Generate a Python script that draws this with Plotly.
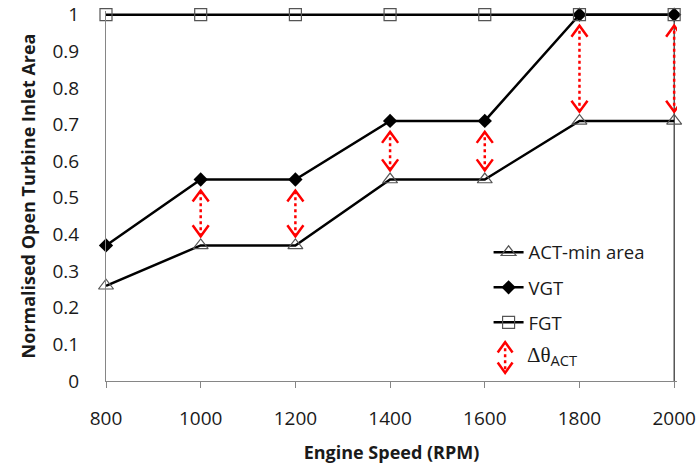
import plotly.graph_objects as go

speed = [800, 1000, 1200, 1400, 1600, 1800, 2000]
act_min = [0.26, 0.37, 0.37, 0.55, 0.55, 0.71, 0.71]
vgt = [0.37, 0.55, 0.55, 0.71, 0.71, 1.0, 1.0]
fgt = [1, 1, 1, 1, 1, 1, 1]
arrow_speeds = [1000, 1200, 1400, 1600, 1800, 2000]

FONT = "Open Sans"
RED = "#ff0000"
TXT = "#1a1a1a"
fig = go.Figure()

# red dotted double arrows between ACT and VGT
gap_top, gap_bot = 0.03, 0.025
head_dx, head_dy = 17, 0.03
for s in arrow_speeds:
    i = speed.index(s)
    lo = act_min[i] + gap_bot
    hi = vgt[i] - gap_top
    fig.add_trace(go.Scatter(x=[s, s], y=[lo, hi], mode="lines",
                             line=dict(color=RED, width=2.5, dash="dot"),
                             showlegend=False, hoverinfo="skip", cliponaxis=False))
    fig.add_trace(go.Scatter(x=[s - head_dx, s, s + head_dx, None, s - head_dx, s, s + head_dx],
                             y=[hi - head_dy, hi, hi - head_dy, None, lo + head_dy, lo, lo + head_dy],
                             mode="lines", line=dict(color=RED, width=2.5),
                             showlegend=False, hoverinfo="skip", cliponaxis=False))

fig.add_trace(go.Scatter(x=speed, y=act_min, name="ACT-min area", mode="lines+markers",
                         line=dict(color="black", width=2.5),
                         marker=dict(symbol="triangle-up-open", size=13, color="#555555",
                                     line=dict(width=1.2)),
                         legendgroup="a", cliponaxis=False))
fig.add_trace(go.Scatter(x=speed, y=vgt, name="VGT", mode="lines+markers",
                         line=dict(color="black", width=2.5),
                         marker=dict(symbol="diamond", size=11, color="black"),
                         legendgroup="b", cliponaxis=False))
fig.add_trace(go.Scatter(x=speed, y=fgt, name="FGT", mode="lines+markers",
                         line=dict(color="black", width=2.5),
                         marker=dict(symbol="square-open", size=12, color="#555555",
                                     line=dict(width=1.2)),
                         legendgroup="c", cliponaxis=False))

# right border line
fig.add_shape(type="line", xref="x", yref="y", x0=speed[-1], x1=speed[-1], y0=0, y1=1,
              line=dict(color="black", width=1), layer="below")

# custom legend entry for the arrow
lx, ly0, ly1 = 0.699, 0.022, 0.105
fig.add_shape(type="line", xref="paper", yref="paper", x0=lx, x1=lx, y0=ly0 + 0.01, y1=ly1 - 0.01,
              line=dict(color=RED, width=2.5, dash="dot"))
fig.add_shape(type="path", xref="paper", yref="paper",
              path=f"M {lx-0.013} {ly1-0.028} L {lx} {ly1} L {lx+0.013} {ly1-0.028}",
              line=dict(color=RED, width=2.5))
fig.add_shape(type="path", xref="paper", yref="paper",
              path=f"M {lx-0.013} {ly0+0.028} L {lx} {ly0} L {lx+0.013} {ly0+0.028}",
              line=dict(color=RED, width=2.5))
fig.add_annotation(xref="paper", yref="paper", x=0.733, y=0.065, xanchor="left", yanchor="middle",
                   text="Δθ<sub><span style='font-family:Open Sans'>ACT</span></sub>", showarrow=False,
                   font=dict(family="Liberation Serif", size=21, color=TXT))

fig.update_layout(
    width=696, height=466,
    margin=dict(l=106, r=19, t=11, b=85),
    paper_bgcolor="white", plot_bgcolor="white",
    font=dict(family=FONT, size=18, color=TXT),
    showlegend=True,
    legend=dict(x=0.67, y=0.398, xanchor="left", yanchor="top",
                font=dict(family=FONT, size=18.5, color=TXT),
                tracegroupgap=8, bgcolor="rgba(0,0,0,0)"),
    xaxis=dict(range=[800, 2006], tickvals=speed, ticks="outside", ticklen=6,
               tickcolor="#868686", showline=True, linecolor="#868686", linewidth=1,
               showgrid=False, zeroline=False, automargin=False,
               tickfont=dict(size=19, color=TXT), ticklabelstandoff=14,
               title=dict(text="<b>Engine Speed (RPM)</b>", font=dict(size=18, color=TXT),
                          standoff=16)),
    yaxis=dict(range=[0, 1.01], tickvals=[0, 0.1, 0.2, 0.3, 0.4, 0.5, 0.6, 0.7, 0.8, 0.9, 1],
               ticktext=["0", "0.1", "0.2", "0.3", "0.4", "0.5", "0.6", "0.7", "0.8", "0.9", "1"],
               ticks="", showline=True, linecolor="#868686", linewidth=1,
               showgrid=False, zeroline=False, automargin=False,
               tickfont=dict(size=19, color=TXT), ticklabelstandoff=22,
               title=dict(text="<b>Normalised Open Turbine Inlet Area</b>",
                          font=dict(size=18, color=TXT), standoff=12)),
)

fig.write_html("out.html")
